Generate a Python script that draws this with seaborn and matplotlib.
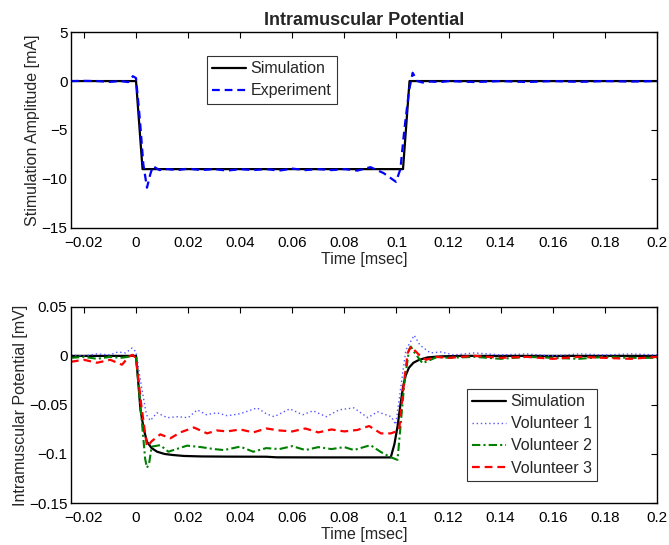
import matplotlib
matplotlib.use("Agg")
import matplotlib.pyplot as plt
import seaborn as sns
import pandas as pd

# ---------------- data ----------------
x_ticks = [-0.02, 0.0, 0.02, 0.04, 0.06, 0.08, 0.1, 0.12, 0.14, 0.16, 0.18, 0.2]
x_tick_labels = ["\u22120.02", "0", "0.02", "0.04", "0.06", "0.08", "0.1",
                 "0.12", "0.14", "0.16", "0.18", "0.2"]
top_y_ticks = [-15, -10, -5, 0, 5]
top_y_labels = ["\u221215", "\u221210", "\u22125", "0", "5"]
bot_y_ticks = [-0.15, -0.1, -0.05, 0.0, 0.05]
bot_y_labels = ["\u22120.15", "\u22120.1", "\u22120.05", "0", "0.05"]

sim_top_t = [-0.025, 0.0, 0.0025, 0.1025, 0.105, 0.2]
sim_top_v = [0, 0, -9, -9, 0, 0]

exp_t = [-0.025, -0.02, -0.015, -0.01, -0.006, -0.003, -0.0012, 0.0, 0.0015, 0.0028,
         0.0042, 0.0055, 0.0065, 0.009, 0.012, 0.016, 0.02, 0.025, 0.03, 0.035,
         0.04, 0.045, 0.05, 0.055, 0.06, 0.065, 0.07, 0.075, 0.08, 0.085,
         0.09, 0.095, 0.0998, 0.1015, 0.103, 0.1048, 0.1062, 0.108, 0.11, 0.113,
         0.117, 0.12, 0.13, 0.14, 0.15, 0.16, 0.17, 0.18, 0.19, 0.2]
exp_v = [0, 0.02, 0.0, -0.08, 0.0, -0.1, 0.5, 0.3, -4, -8.5,
         -10.9, -9.5, -8.7, -9.1, -9.0, -9.1, -8.95, -9.1, -9.0, -9.15,
         -9.0, -9.1, -9.0, -9.15, -8.95, -9.1, -9.0, -9.1, -9.0, -9.15,
         -8.8, -9.4, -10.3, -9.0, -5, -1, 0.85, 0.0, -0.15, -0.05,
         -0.1, 0.0, -0.1, 0.0, -0.1, 0.0, -0.08, 0.0, -0.05, 0.0]

sim_bot_t = [-0.025, 0.0, 0.0008, 0.0017, 0.003, 0.0042, 0.006, 0.0081, 0.011, 0.014,
             0.0183, 0.025, 0.035, 0.05, 0.054, 0.07, 0.085, 0.0978, 0.0992, 0.1004,
             0.1015, 0.1025, 0.1035, 0.1048, 0.1065, 0.1087, 0.112, 0.117, 0.125, 0.2]
sim_bot_v = [0, 0, -0.025, -0.055, -0.075, -0.0875, -0.094, -0.0977, -0.1, -0.101,
             -0.102, -0.1025, -0.1027, -0.1028, -0.1034, -0.1035, -0.1035, -0.1035, -0.09, -0.072,
             -0.05, -0.032, -0.02, -0.012, -0.007, -0.004, -0.0015, -0.0005, 0, 0]

vol1_t = [-0.025, -0.02, -0.015, -0.01, -0.007, -0.004, -0.0015, 0.0, 0.002, 0.004,
          0.0055, 0.008, 0.012, 0.016, 0.02, 0.0235, 0.027, 0.031, 0.035, 0.04,
          0.0465, 0.05, 0.053, 0.059, 0.064, 0.068, 0.073, 0.078, 0.0836, 0.089,
          0.0927, 0.098, 0.0997, 0.1015, 0.1036, 0.1068, 0.109, 0.113, 0.117, 0.122,
          0.13, 0.14, 0.15, 0.16, 0.17, 0.18, 0.19, 0.2]
vol1_v = [0.001, 0.0, 0.002, 0.001, 0.004, 0.003, 0.008, 0.004, -0.03, -0.06,
          -0.066, -0.058, -0.063, -0.062, -0.063, -0.055, -0.06, -0.058, -0.061, -0.059,
          -0.053, -0.059, -0.062, -0.054, -0.06, -0.056, -0.062, -0.055, -0.053, -0.063,
          -0.057, -0.062, -0.07, -0.035, 0.006, 0.021, 0.011, 0.003, 0.004, 0.001,
          0.003, 0.001, 0.002, 0.0, 0.002, 0.001, 0.002, 0.001]

vol2_t = [-0.025, -0.02, -0.015, -0.01, -0.006, -0.003, -0.001, 0.0, 0.002, 0.0035,
          0.0042, 0.005, 0.006, 0.0093, 0.0124, 0.0196, 0.025, 0.03, 0.0337, 0.04,
          0.045, 0.05, 0.055, 0.06, 0.065, 0.07, 0.075, 0.08, 0.0836, 0.09,
          0.094, 0.0975, 0.1004, 0.103, 0.1048, 0.1055, 0.107, 0.11, 0.1157, 0.12,
          0.13, 0.14, 0.15, 0.16, 0.17, 0.18, 0.19, 0.2]
vol2_v = [-0.002, -0.001, -0.003, -0.001, -0.002, -0.001, 0.001, -0.001, -0.06, -0.105,
          -0.114, -0.11, -0.0925, -0.091, -0.0977, -0.0915, -0.093, -0.095, -0.096, -0.0925,
          -0.0977, -0.094, -0.095, -0.092, -0.096, -0.093, -0.095, -0.093, -0.096, -0.091,
          -0.098, -0.103, -0.106, -0.028, 0.006, 0.0095, 0.003, -0.0075, -0.001, -0.002,
          -0.001, -0.003, -0.001, -0.002, -0.003, -0.001, -0.002, -0.002]

vol3_t = [-0.025, -0.02, -0.015, -0.0099, -0.0054, -0.0028, -0.0015, 0.0, 0.002, 0.0042,
          0.006, 0.0093, 0.0132, 0.017, 0.0222, 0.0273, 0.031, 0.035, 0.04, 0.045,
          0.05, 0.055, 0.06, 0.065, 0.07, 0.075, 0.08, 0.085, 0.0895, 0.094,
          0.0978, 0.101, 0.1027, 0.1043, 0.1055, 0.1087, 0.1113, 0.115, 0.12, 0.13,
          0.14, 0.15, 0.16, 0.17, 0.18, 0.19, 0.2]
vol3_v = [-0.006, -0.004, -0.007, -0.004, -0.009, -0.001, 0.001, -0.002, -0.05, -0.0925,
          -0.087, -0.08, -0.084, -0.078, -0.073, -0.079, -0.076, -0.077, -0.075, -0.078,
          -0.074, -0.076, -0.077, -0.074, -0.078, -0.075, -0.077, -0.0755, -0.0715, -0.079,
          -0.079, -0.076, -0.031, 0.003, 0.0095, 0.001, -0.004, -0.001, -0.002, 0.0,
          -0.002, -0.001, -0.003, -0.001, -0.002, -0.003, -0.001]

# ---------------- style ----------------
sns.set_style("white")
plt.rcParams["font.family"] = ["Liberation Sans", "DejaVu Sans"]
plt.rcParams["xtick.direction"] = "in"
plt.rcParams["ytick.direction"] = "in"

fig = plt.figure(figsize=(6.69, 5.45), dpi=100)
ax1 = fig.add_axes([0.106, 0.582, 0.876, 0.359])
ax2 = fig.add_axes([0.106, 0.077, 0.876, 0.360])

FS_TICK = 11
FS = 11.5

def line(ax, t, v, label, **kw):
    df = pd.DataFrame({"t": t, "v": v})
    sns.lineplot(data=df, x="t", y="v", ax=ax, sort=False, estimator=None,
                 label=label, legend=False, **kw)

line(ax1, sim_top_t, sim_top_v, "Simulation", color="black", linewidth=1.6)
line(ax1, exp_t, exp_v, "Experiment", color="#0000ff", linewidth=1.6,
     linestyle=(0, (3.5, 2.2)))

line(ax2, sim_bot_t, sim_bot_v, "Simulation", color="black", linewidth=1.6)
line(ax2, vol1_t, vol1_v, "Volunteer 1", color="#5555ff", linewidth=1.0,
     linestyle=(0, (1, 2)))
line(ax2, vol2_t, vol2_v, "Volunteer 2", color="#008000", linewidth=1.5,
     linestyle=(0, (4, 1.5, 1, 1.5)))
line(ax2, vol3_t, vol3_v, "Volunteer 3", color="#ff0000", linewidth=1.6,
     linestyle=(0, (3.5, 2.2)))

for ax, yt, yl, ylim, ylab in [
        (ax1, top_y_ticks, top_y_labels, (-15, 5), "Stimulation Amplitude [mA]"),
        (ax2, bot_y_ticks, bot_y_labels, (-0.15, 0.05), "Intramuscular Potential [mV]")]:
    ax.set_xlim(-0.025, 0.2)
    ax.set_ylim(*ylim)
    ax.set_xticks(x_ticks)
    ax.set_xticklabels(x_tick_labels, fontsize=FS_TICK)
    ax.set_yticks(yt)
    ax.set_yticklabels(yl, fontsize=FS_TICK)
    ax.set_xlabel("Time [msec]", fontsize=FS, labelpad=1)
    ax.set_ylabel(ylab, fontsize=FS, labelpad=1)
    ax.tick_params(top=True, right=True, length=4, width=0.8, colors="black")
    ax.tick_params(axis="x", pad=6)
    ax.tick_params(axis="y", pad=2.5)
    for s in ax.spines.values():
        s.set_visible(True)
        s.set_color("black")
        s.set_linewidth(1.0)

ax1.set_title("Intramuscular Potential", fontsize=13, fontweight="bold", pad=5)

leg_kw = dict(borderaxespad=0, fontsize=FS, frameon=True, fancybox=False,
              edgecolor="black", handlelength=2.1, handletextpad=0.3,
              borderpad=0.33, labelspacing=0.45)
leg1 = ax1.legend(loc="upper left", bbox_to_anchor=(0.232, 0.878), **leg_kw)
leg1.get_frame().set_linewidth(0.8)
leg2 = ax2.legend(loc="upper left", bbox_to_anchor=(0.676, 0.582), **leg_kw)
leg2.get_frame().set_linewidth(0.8)

fig.savefig("out.png", dpi=100)
